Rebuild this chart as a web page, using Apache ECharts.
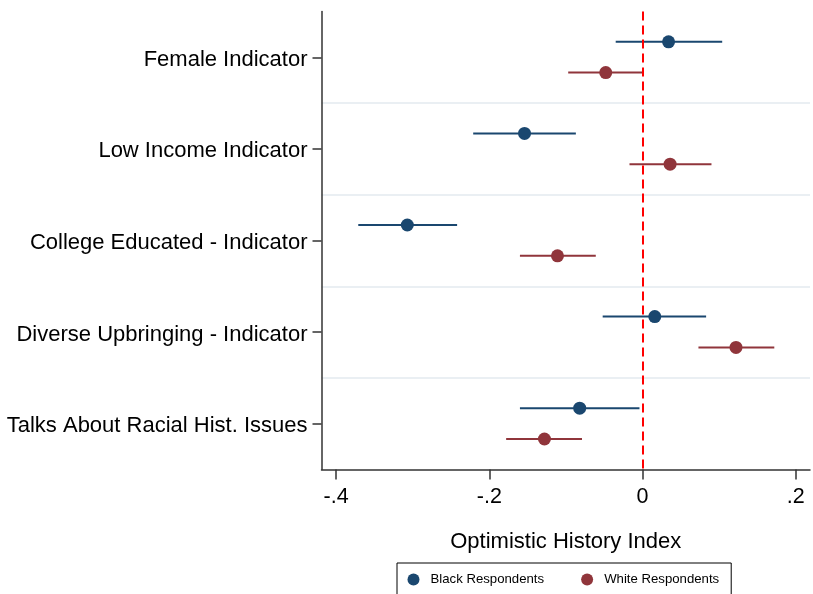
<!DOCTYPE html>
<html><head><meta charset="utf-8">
<script src="https://cdn.jsdelivr.net/npm/echarts@6/dist/echarts.min.js"></script>
<style>html,body{margin:0;padding:0;background:#fff}#c{width:813px;height:594px}</style>
</head><body><div id="c"></div>
<script>
const categories = ['Female Indicator', 'Low Income Indicator', 'College Educated - Indicator', 'Diverse Upbringing - Indicator', 'Talks About Racial Hist. Issues'];
const blackCoef = [0.034, -0.154, -0.307, 0.016, -0.082];
const blackLo   = [-0.035, -0.221, -0.371, -0.052, -0.160];
const blackHi   = [0.104, -0.087, -0.242, 0.083, -0.004];
const whiteCoef = [-0.048, 0.036, -0.111, 0.122, -0.128];
const whiteLo   = [-0.097, -0.017, -0.160, 0.073, -0.178];
const whiteHi   = [0.000, 0.090, -0.061, 0.172, -0.079];
const xTicks = [-0.4, -0.2, 0, 0.2];
const seriesNames = ['Black Respondents', 'White Respondents'];

const NAVY = '#1a476f', MAROON = '#90353b';
const FONT = '"Liberation Sans", Arial, sans-serif';

function errBar(offset, color) {
  return function (params, api) {
    const p1 = api.coord([api.value(0), api.value(2)]);
    const p2 = api.coord([api.value(1), api.value(2)]);
    return { type: 'line', shape: { x1: p1[0], y1: p1[1] + offset, x2: p2[0], y2: p2[1] + offset },
      style: { stroke: color, lineWidth: 2 } };
  };
}
const fmt = v => v === 0 ? '0' : (v < 0 ? '-' : '') + String(Math.abs(Math.round(v * 10) / 10)).replace(/^0/, '');

const chart = echarts.init(document.getElementById('c'), null, { renderer: 'canvas' });
chart.setOption({
  animation: false,
  backgroundColor: '#fff',
  textStyle: { fontFamily: FONT },
  grid: { left: 321.5, right: 3, top: 11.5, bottom: 124.5 },
  xAxis: {
    type: 'value', min: -0.419, max: 0.2186,
    axisLine: { show: true, onZero: false, lineStyle: { color: '#333', width: 1.5 } },
    axisTick: { show: true, length: 10, customValues: xTicks, lineStyle: { color: '#333', width: 1.5 } },
    axisLabel: { customValues: xTicks, formatter: fmt, color: '#000', fontSize: 21.5, margin: 17, fontFamily: FONT },
    splitLine: { show: false },
    name: 'Optimistic History Index', nameLocation: 'middle', nameGap: 61,
    nameTextStyle: { color: '#000', fontSize: 22, fontFamily: FONT }
  },
  yAxis: {
    type: 'category', data: categories, inverse: true,
    axisLine: { show: true, onZero: false, lineStyle: { color: '#333', width: 1.5 } },
    axisTick: { show: true, length: 9, alignWithLabel: true, lineStyle: { color: '#333', width: 1.5 } },
    axisLabel: { color: '#000', fontSize: 22, margin: 14, formatter: '{a|{value}}',
      rich: { a: { fontSize: 22, color: '#000', fontFamily: FONT, padding: [5, 0, 0, 0] } } },
    splitLine: { show: true, showMinLine: false, showMaxLine: false, lineStyle: { color: '#eaeff3', width: 2 } }
  },
  legend: {
    data: seriesNames.map(n => ({ name: n, icon: 'circle' })),
    left: 397, top: 563, orient: 'horizontal',
    padding: [10, 12, 10, 10.5], itemGap: 37, itemWidth: 24, itemHeight: 12,
    borderColor: '#000', borderWidth: 1, backgroundColor: '#fff',
    textStyle: { fontSize: 13.2, color: '#000', fontFamily: FONT }
  },
  series: [
    { type: 'custom', name: seriesNames[0], renderItem: errBar(-15.5, NAVY), z: 2,
      itemStyle: { color: NAVY },
      encode: { x: [0, 1], y: 2 },
      data: categories.map((c, i) => [blackLo[i], blackHi[i], i]) },
    { type: 'custom', name: seriesNames[1], renderItem: errBar(15.3, MAROON), z: 2,
      itemStyle: { color: MAROON },
      encode: { x: [0, 1], y: 2 },
      data: categories.map((c, i) => [whiteLo[i], whiteHi[i], i]) },
    { type: 'scatter', name: seriesNames[0], symbol: 'circle', symbolSize: 13, symbolOffset: [0, -15.5], z: 3,
      itemStyle: { color: NAVY, opacity: 1 },
      data: categories.map((c, i) => [blackCoef[i], i]) },
    { type: 'scatter', name: seriesNames[1], symbol: 'circle', symbolSize: 13, symbolOffset: [0, 15.3], z: 3,
      itemStyle: { color: MAROON, opacity: 1 },
      data: categories.map((c, i) => [whiteCoef[i], i]),
      markLine: { silent: true, symbol: 'none', label: { show: false }, z: 10,
        lineStyle: { color: '#ff0000', width: 2, type: [9, 5] },
        data: [{ xAxis: 0 }] } }
  ]
});
</script></body></html>
